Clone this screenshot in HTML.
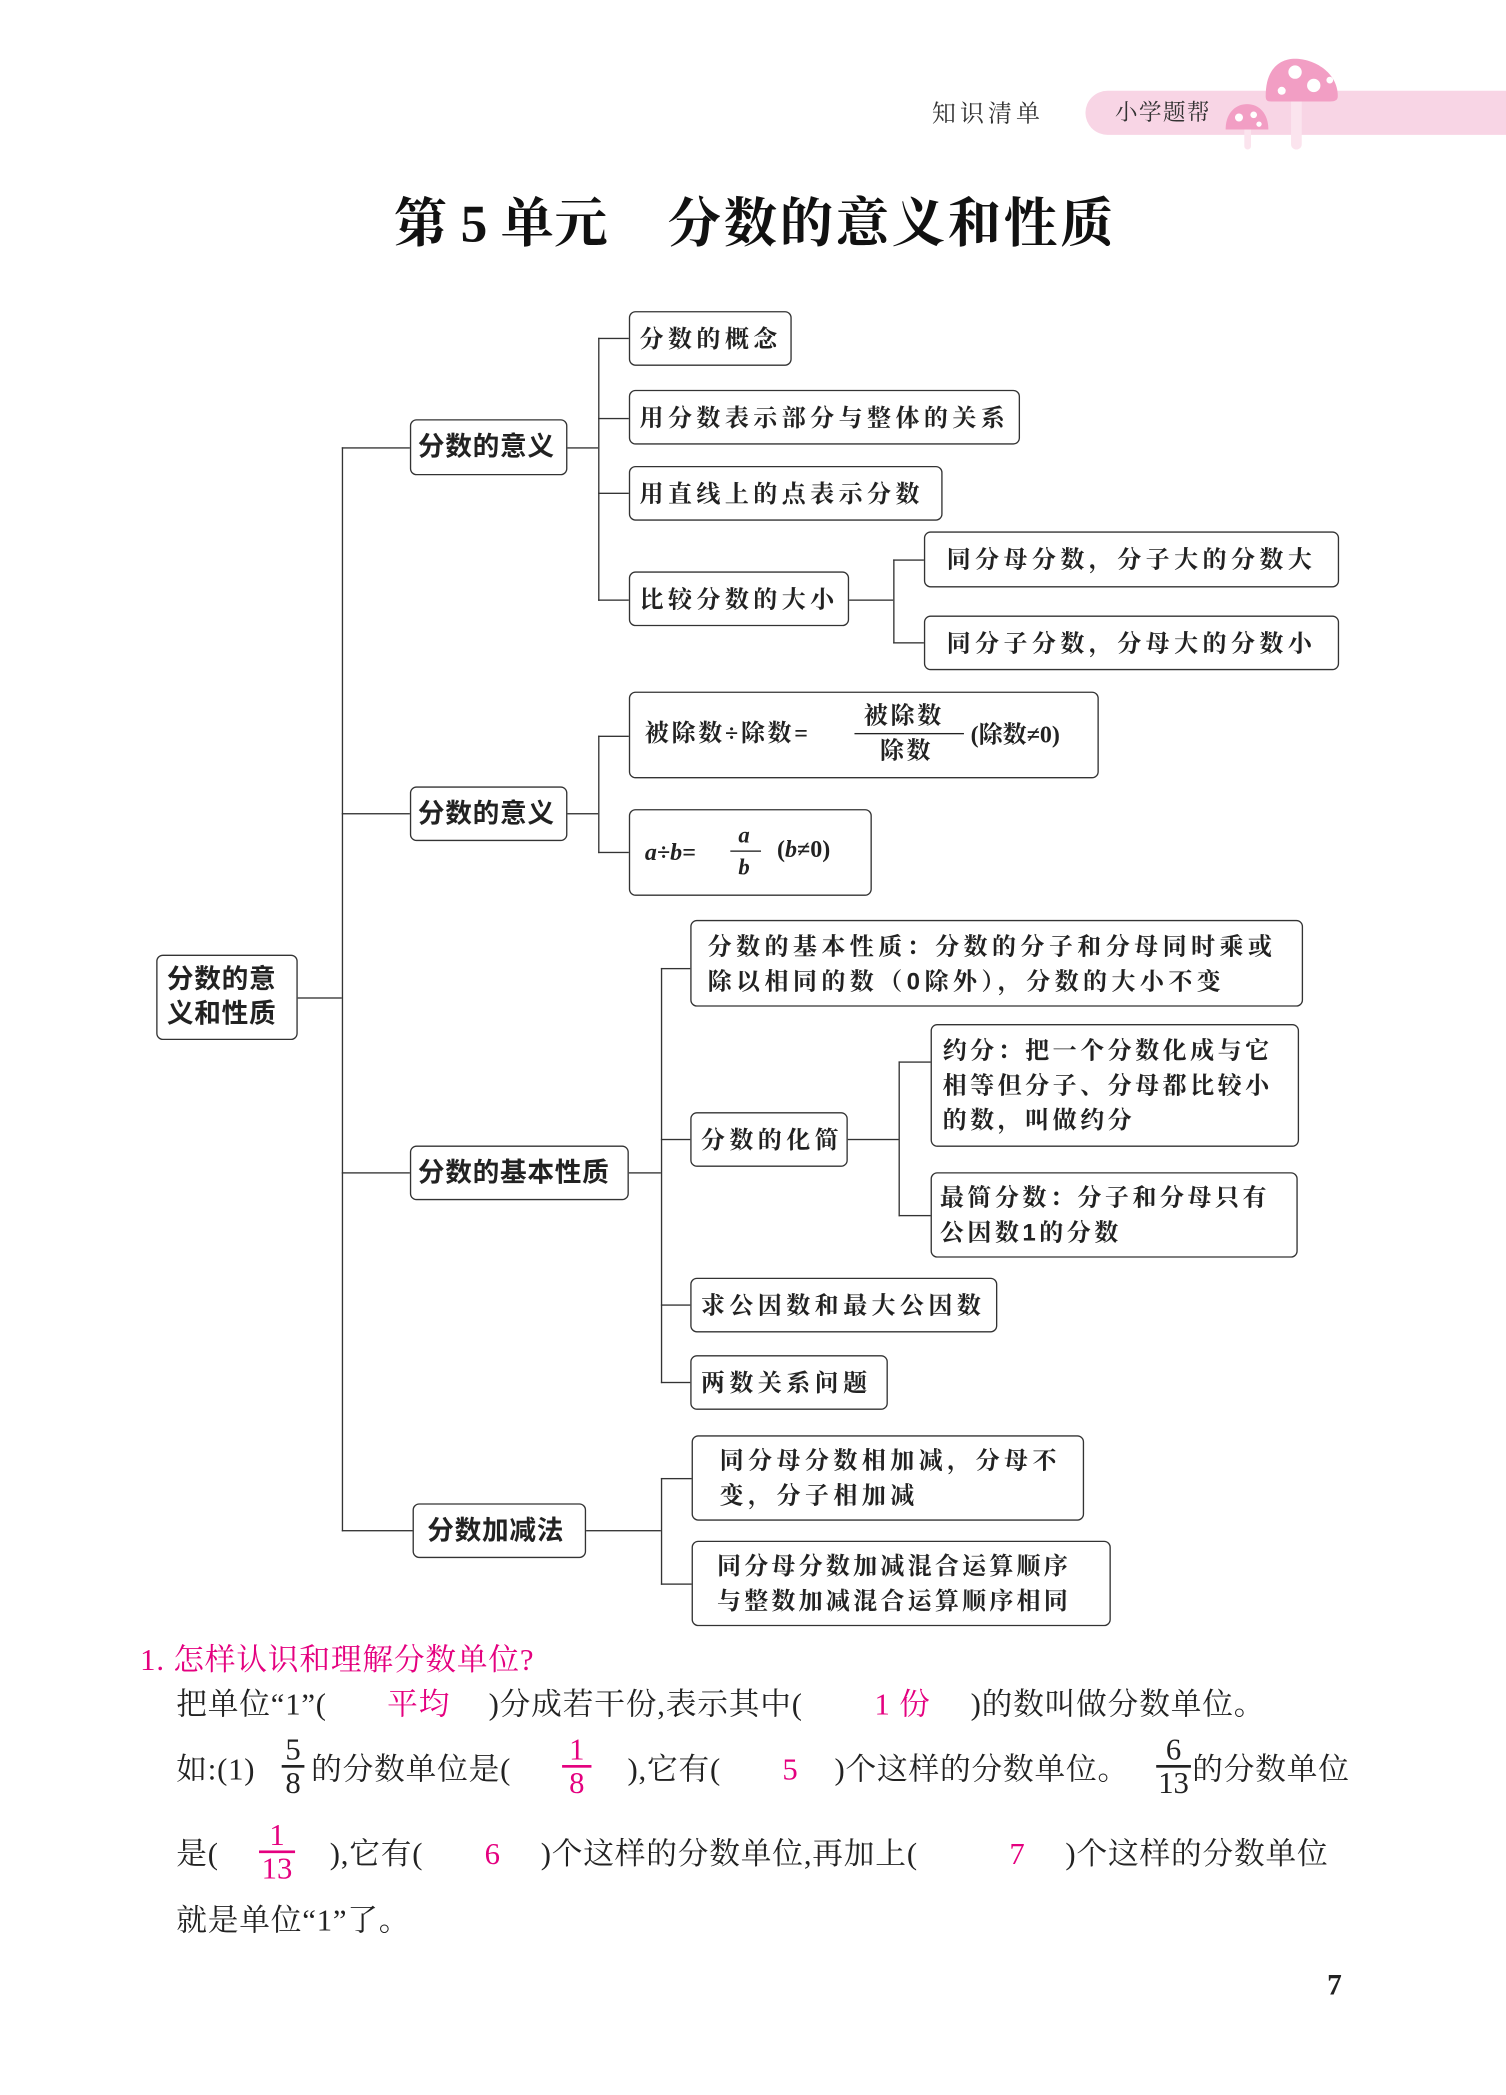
<!DOCTYPE html>
<html><head><meta charset="utf-8"><style>
html,body{margin:0;padding:0;background:#fff;}
body{width:1506px;height:2095px;overflow:hidden;position:relative;}
#c{position:absolute;left:0;top:0;width:1128px;height:1569px;transform:scale(1.33511);transform-origin:0 0;font-family:"Liberation Serif","Noto Serif CJK SC",serif;color:#222;}
.b{position:absolute;border:1px solid #333;border-radius:5px;display:flex;align-items:center;padding-left:7px;box-sizing:border-box;font-family:"Liberation Sans","Noto Serif CJK SC",serif;font-weight:bold;font-size:18px;letter-spacing:3.3px;line-height:26px;background:#fff;}
.L{font-size:20px;letter-spacing:0.5px;font-family:"Liberation Sans","Noto Sans CJK SC",sans-serif;font-weight:bold;}
.h{position:absolute;height:1px;background:#333;}
.v{position:absolute;width:1px;background:#333;}
.t{position:absolute;font-size:23px;white-space:nowrap;line-height:1;letter-spacing:0.6px;}
.p{color:#e4007f;}
.fr{position:absolute;font-size:23px;line-height:1;text-align:center;}
.fr .bar{height:1.5px;background:#222;}
.fr.p .bar{background:#e4007f;}
.a{position:absolute;white-space:nowrap;line-height:1;}
</style></head><body><div id="c">

<div class="t" style="left:698px;top:76px;font-size:18px;letter-spacing:3px;color:#333">知识清单</div>
<div style="position:absolute;left:813px;top:68px;width:315px;height:33px;background:#f8d5e5;border-radius:17px 0 0 17px"></div>
<div class="t" style="left:835px;top:76px;font-size:17px;letter-spacing:1px;color:#333">小学题帮</div>
<svg style="position:absolute;left:912px;top:42px" width="95" height="72" viewBox="0 0 95 72">
<rect x="55" y="28" width="8" height="42" rx="4" fill="#fbe4ee"/>
<path d="M36 30 C36 8 48 2 58 2 C72 2 90 12 90 30 C90 33 88 34 84 34 L40 34 C37 34 36 33 36 30Z" fill="#f29ec4"/>
<circle cx="58" cy="12" r="5" fill="#fff"/><circle cx="72" cy="22" r="5" fill="#fff"/><circle cx="48" cy="26" r="3" fill="#fff"/><circle cx="84" cy="18" r="2.5" fill="#fff"/>
<rect x="20" y="52" width="5" height="18" rx="2.5" fill="#fbe4ee"/>
<path d="M6 55 C6 42 14 36 22 36 C32 36 38 44 38 55 Z" fill="#f29ec4"/>
<circle cx="16" cy="46" r="3" fill="#fff"/><circle cx="27" cy="44" r="2.5" fill="#fff"/><circle cx="31" cy="51" r="2" fill="#fff"/>
</svg>

<div class="t" style="left:295px;top:148px;font-size:40px;font-weight:bold;color:#111;letter-spacing:0">第 5 单元</div>
<div class="t" style="left:500px;top:148px;font-size:40px;font-weight:bold;color:#111;letter-spacing:2px">分数的意义和性质</div>

<div class="h" style="left:223px;top:747px;width:33px"></div>
<div class="v" style="left:256px;top:335px;height:812px"></div>
<div class="h" style="left:256px;top:335px;width:51px"></div>
<div class="h" style="left:256px;top:609px;width:51px"></div>
<div class="h" style="left:256px;top:878px;width:51px"></div>
<div class="h" style="left:256px;top:1146px;width:53px"></div>

<div class="h" style="left:425px;top:335px;width:23px"></div>
<div class="v" style="left:448px;top:253px;height:197px"></div>
<div class="h" style="left:448px;top:253px;width:23px"></div>
<div class="h" style="left:448px;top:313px;width:23px"></div>
<div class="h" style="left:448px;top:369px;width:23px"></div>
<div class="h" style="left:448px;top:449px;width:23px"></div>
<div class="h" style="left:636px;top:449px;width:33px"></div>
<div class="v" style="left:669px;top:419px;height:63px"></div>
<div class="h" style="left:669px;top:419px;width:23px"></div>
<div class="h" style="left:669px;top:481px;width:23px"></div>

<div class="h" style="left:425px;top:609px;width:23px"></div>
<div class="v" style="left:448px;top:551px;height:88px"></div>
<div class="h" style="left:448px;top:551px;width:23px"></div>
<div class="h" style="left:448px;top:638px;width:23px"></div>

<div class="h" style="left:471px;top:878px;width:24px"></div>
<div class="v" style="left:495px;top:725px;height:311px"></div>
<div class="h" style="left:495px;top:725px;width:22px"></div>
<div class="h" style="left:495px;top:853px;width:22px"></div>
<div class="h" style="left:495px;top:977px;width:22px"></div>
<div class="h" style="left:495px;top:1035px;width:22px"></div>
<div class="h" style="left:635px;top:853px;width:38px"></div>
<div class="v" style="left:673px;top:795px;height:116px"></div>
<div class="h" style="left:673px;top:795px;width:24px"></div>
<div class="h" style="left:673px;top:910px;width:24px"></div>

<div class="h" style="left:439px;top:1146px;width:56px"></div>
<div class="v" style="left:495px;top:1107px;height:80px"></div>
<div class="h" style="left:495px;top:1107px;width:23px"></div>
<div class="h" style="left:495px;top:1186px;width:23px"></div>

<div class="b L" style="left:117px;top:715px;width:106px;height:64px;line-height:26px">分数的意<br>义和性质</div>
<div class="b L" style="left:307px;top:314px;width:118px;height:42px;padding-left:5px">分数的意义</div>
<div class="b L" style="left:307px;top:589px;width:118px;height:41px;padding-left:5px">分数的意义</div>
<div class="b L" style="left:307px;top:858px;width:164px;height:41px;padding-left:5px">分数的基本性质</div>
<div class="b L" style="left:309px;top:1126px;width:130px;height:41px;padding-left:10px">分数加减法</div>

<div class="b" style="left:471px;top:233px;width:122px;height:41px">分数的概念</div>
<div class="b" style="left:471px;top:292px;width:293px;height:41px">用分数表示部分与整体的关系</div>
<div class="b" style="left:471px;top:349px;width:235px;height:41px">用直线上的点表示分数</div>
<div class="b" style="left:471px;top:428px;width:165px;height:41px">比较分数的大小</div>
<div class="b" style="left:692px;top:398px;width:311px;height:42px;padding-left:16px">同分母分数，分子大的分数大</div>
<div class="b" style="left:692px;top:461px;width:311px;height:41px;padding-left:16px">同分子分数，分母大的分数小</div>

<div class="b" style="left:471px;top:518px;width:352px;height:65px"></div>
<div class="a" style="left:483px;top:540px;font-size:18px;font-weight:bold;letter-spacing:2px">被除数÷除数=</div>
<div class="a" style="left:647px;top:527px;font-size:18px;font-weight:bold;letter-spacing:2px">被除数</div>
<div class="h" style="left:640px;top:549px;width:82px;background:#222"></div>
<div class="a" style="left:659px;top:553px;font-size:18px;font-weight:bold;letter-spacing:2px">除数</div>
<div class="a" style="left:727px;top:541px;font-size:18px;font-weight:bold">(除数≠0)</div>

<div class="b" style="left:471px;top:606px;width:182px;height:65px"></div>
<div class="a" style="left:483px;top:629px;font-size:18px;font-weight:bold;font-style:italic">a÷b=</div>
<div class="a" style="left:553px;top:617px;font-size:17px;font-weight:bold;font-style:italic">a</div>
<div class="h" style="left:547px;top:637px;width:23px;background:#222"></div>
<div class="a" style="left:553px;top:641px;font-size:17px;font-weight:bold;font-style:italic">b</div>
<div class="a" style="left:582px;top:627px;font-size:18px;font-weight:bold">(<i>b</i>≠0)</div>

<div class="b" style="left:517px;top:689px;width:459px;height:65px;padding-left:12px;line-height:26px">分数的基本性质：分数的分子和分母同时乘或<br>除以相同的数（0除外），分数的大小不变</div>
<div class="b" style="left:517px;top:833px;width:118px;height:41px">分数的化简</div>
<div class="b" style="left:697px;top:767px;width:276px;height:92px;padding-left:8px;line-height:26px;letter-spacing:2.6px">约分：把一个分数化成与它<br>相等但分子、分母都比较小<br>的数，叫做约分</div>
<div class="b" style="left:697px;top:878px;width:275px;height:64px;padding-left:6px;line-height:26px;letter-spacing:2.6px">最简分数：分子和分母只有<br>公因数1的分数</div>
<div class="b" style="left:517px;top:957px;width:230px;height:41px">求公因数和最大公因数</div>
<div class="b" style="left:517px;top:1015px;width:148px;height:41px">两数关系问题</div>

<div class="b" style="left:518px;top:1075px;width:294px;height:64px;padding-left:20px;line-height:26px">同分母分数相加减，分母不<br>变，分子相加减</div>
<div class="b" style="left:518px;top:1154px;width:314px;height:64px;padding-left:18px;line-height:26px;letter-spacing:2.4px">同分母分数加减混合运算顺序<br>与整数加减混合运算顺序相同</div>

<div class="t p" style="left:105px;top:1232px;font-size:23px">1. 怎样认识和理解分数单位?</div>

<div class="t" style="left:132px;top:1265px">把单位“1”(</div>
<div class="t p" style="left:290px;top:1265px">平均</div>
<div class="t" style="left:366px;top:1265px">)分成若干份,表示其中(</div>
<div class="t p" style="left:655px;top:1265px">1 份</div>
<div class="t" style="left:727px;top:1265px">)的数叫做分数单位。</div>

<div class="t" style="left:132px;top:1314px">如:(1)</div>
<div class="fr" style="left:211px;top:1299px;width:17px">5<div class="bar"></div>8</div>
<div class="t" style="left:233px;top:1314px">的分数单位是(</div>
<div class="fr p" style="left:421px;top:1299px;width:22px">1<div class="bar"></div>8</div>
<div class="t" style="left:470px;top:1314px">),它有(</div>
<div class="t p" style="left:586px;top:1314px">5</div>
<div class="t" style="left:625px;top:1314px">)个这样的分数单位。</div>
<div class="fr" style="left:866px;top:1299px;width:26px">6<div class="bar"></div>13</div>
<div class="t" style="left:893px;top:1314px">的分数单位</div>

<div class="t" style="left:132px;top:1377px">是(</div>
<div class="fr p" style="left:194px;top:1363px;width:27px">1<div class="bar"></div>13</div>
<div class="t" style="left:247px;top:1377px">),它有(</div>
<div class="t p" style="left:363px;top:1377px">6</div>
<div class="t" style="left:405px;top:1377px">)个这样的分数单位,再加上(</div>
<div class="t p" style="left:756px;top:1377px">7</div>
<div class="t" style="left:798px;top:1377px">)个这样的分数单位</div>

<div class="t" style="left:132px;top:1427px">就是单位“1”了。</div>

<div class="t" style="left:994px;top:1476px;font-size:22px;font-weight:bold">7</div>
</div></body></html>
